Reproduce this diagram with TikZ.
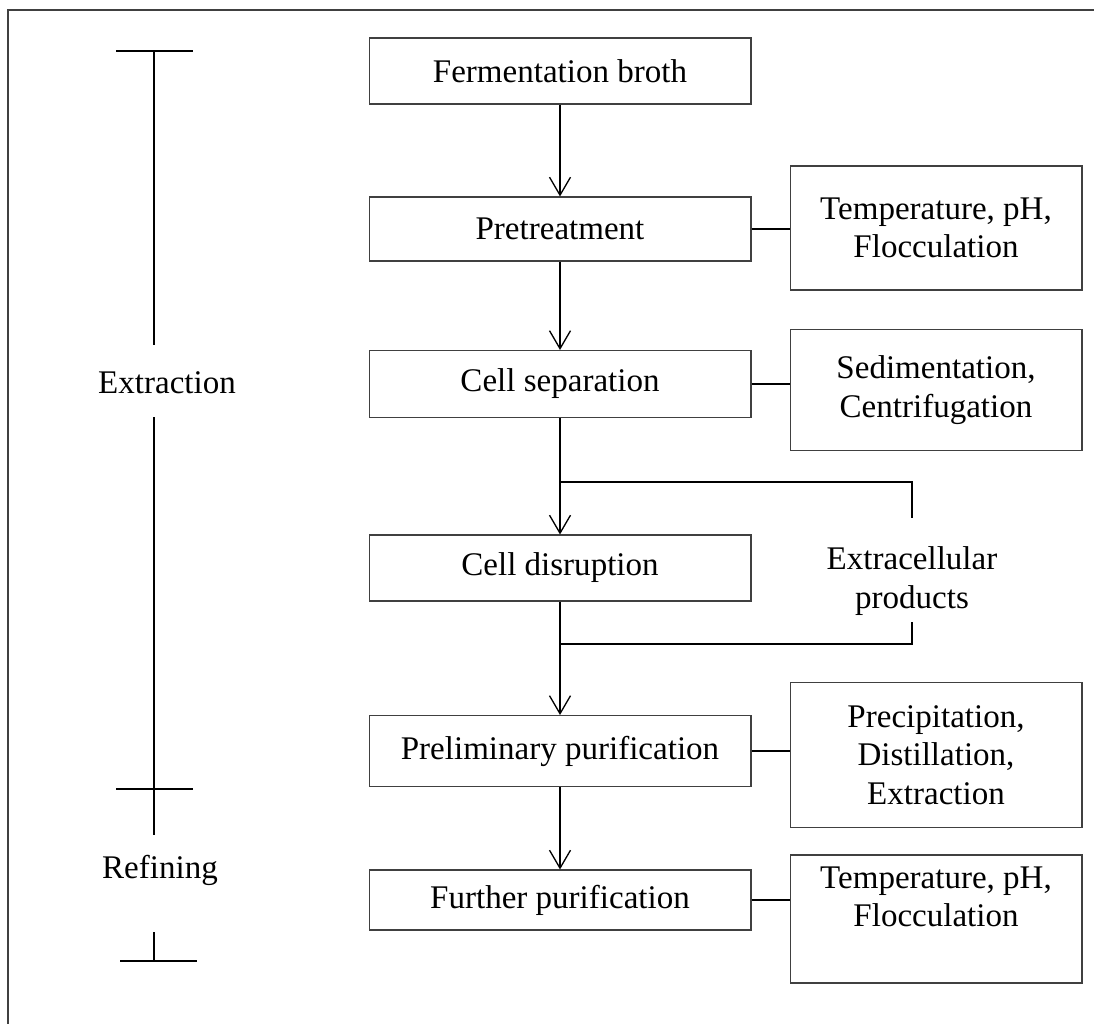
\documentclass[tikz,border=0pt]{standalone}
\usepackage{fontspec}
\setmainfont{Liberation Serif}
\usetikzlibrary{arrows.meta,calc,positioning}

\tikzset{
  stepbox/.style={draw=black!75, line width=0.6pt, minimum width=7.64cm, inner sep=0pt, align=center},
  sidebox/.style={draw=black!75, line width=0.6pt, minimum width=5.84cm, inner sep=0pt, align=center},
  flow/.style={line width=0.75pt, -{Straight Barb[length=0.36cm, width=0.42cm, line width=0.75pt]}},
  link/.style={line width=0.75pt},
  phase/.style={line width=0.9pt},
}

\begin{document}
\begin{tikzpicture}[x=0.02cm, y=-0.02cm, font=\fontsize{18.8}{22}\selectfont]
    \useasboundingbox (0,0) rectangle (1094,1024);

    % frame
    \draw[black!75, line width=0.9pt] (1094,10) -- (8,10) -- (8,1024);

    % main steps
    \node[stepbox, minimum height=1.32cm] (broth)   at (560,71)  {Fermentation broth};
    \node[stepbox, minimum height=1.28cm] (pretr)   at (560,229) {Pretreatment};
    \node[stepbox, minimum height=1.34cm] (sep)     at (560,384) {Cell separation};
    \node[stepbox, minimum height=1.32cm] (disr)    at (560,568) {Cell disruption};
    \node[stepbox, minimum height=1.42cm] (prelim)  at (560,751) {Preliminary purification};
    \node[stepbox, minimum height=1.20cm] (further) at (560,900) {Further purification};

    % side boxes
    \node[sidebox, minimum height=2.48cm] (temp1) at (936,228) {Temperature, pH,\\Flocculation};
    \node[sidebox, minimum height=2.42cm] (sedi)  at (936,390) {Sedimentation,\\Centrifugation};
    \node[sidebox, minimum height=2.90cm] (prec)  at (936,755) {Precipitation,\\Distillation,\\Extraction};
    \node[sidebox, minimum height=2.56cm] (temp2) at (936,919) {};
    \node[align=center] (temp2txt) at (936,897) {Temperature, pH,\\Flocculation};

    % by-pass for extracellular products
    \node[align=center] (extra) at (912,581) {Extracellular\\products};
    \coordinate (split) at (560,482);
    \coordinate (join)  at (560,644);
    \coordinate (xtop)  at (912,518);
    \coordinate (xbot)  at (912,622);

    % flow arrows
    \draw[flow] (broth) -- (pretr);
    \draw[flow] (pretr) -- (sep);
    \draw[link] (sep) -- (split);
    \draw[flow] (split) -- (disr);
    \draw[link] (disr) -- (join);
    \draw[flow] (join) -- (prelim);
    \draw[flow] (prelim) -- (further);
    \draw[link] (split) -| (xtop);
    \draw[link] (join) -| (xbot);

    % links to side boxes
    \draw[link] (pretr.east) -- (pretr.east -| temp1.west);
    \draw[link] (sep.east) -- (sep.east -| sedi.west);
    \draw[link] (prelim.east) -- (prelim.east -| prec.west);
    \draw[link] (further.east) -- (further.east -| temp2.west);

    % phases on the left
    \node (extraction) at (167,383) {Extraction};
    \node (refining)   at (160,870) {Refining};
    \draw[phase] (116,51) -- (193,51);
    \draw[phase] (116,789) -- (193,789);
    \draw[phase] (120,961) -- (197,961);
    \draw[phase] (154,51) -- (154,345);
    \draw[phase] (154,417) -- (154,835);
    \draw[phase] (154,932) -- (154,961);
\end{tikzpicture}
\end{document}
